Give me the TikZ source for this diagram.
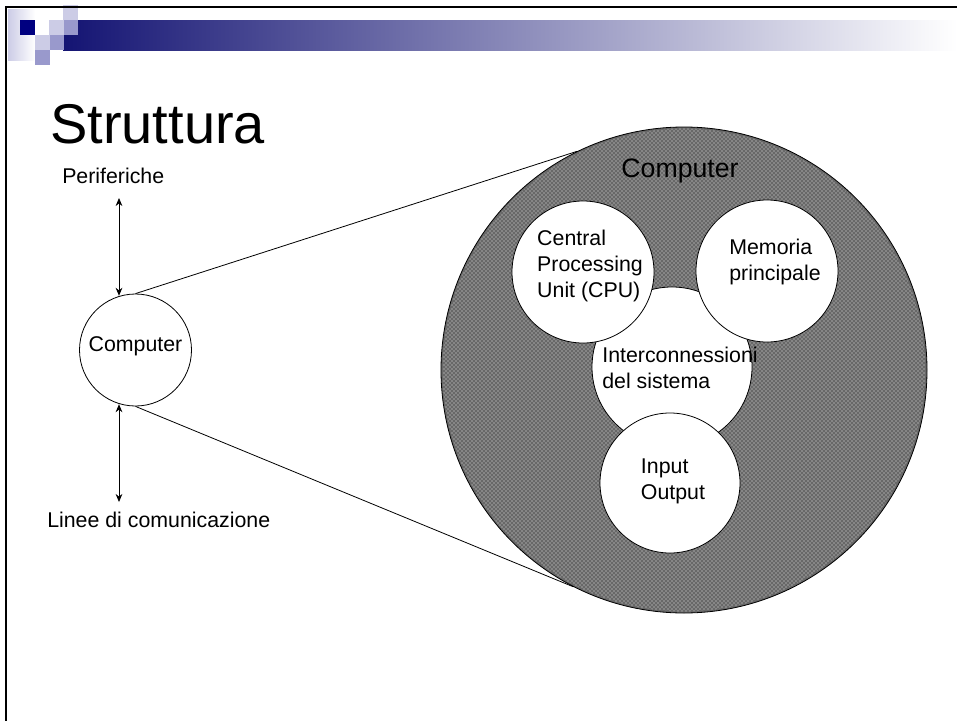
\documentclass[tikz,border=0pt]{standalone}
\usepackage{fontspec}
\setmainfont{Liberation Sans}
\usetikzlibrary{arrows.meta,patterns,calc}
\tikzstyle{blob}=[circle,draw,fill=white,inner sep=0pt,line width=0.6pt]
\tikzstyle{lbl}=[align=left,inner sep=0pt,font=\fontsize{16}{19.5}\selectfont]
\tikzstyle{both}=[{Stealth[length=6pt,width=5pt]}-{Stealth[length=6pt,width=5pt]},line width=0.6pt]
\definecolor{navy}{RGB}{0,0,128}
\definecolor{lav}{RGB}{204,204,230}
\definecolor{lavmid}{RGB}{153,153,204}
\definecolor{hatch}{RGB}{104,104,104}

\begin{document}
\begin{tikzpicture}[x=0.75pt,y=-0.75pt]
\useasboundingbox (0,0) rectangle (957,721);
% header of the slide
\shade[left color=lav,right color=white] (8,9) rectangle (35,60);
\shade[left color={rgb,255:red,20;green,20;blue,115},right color=white] (63,20) rectangle (957,50);
\fill[navy] (20,20) rectangle (35,35);
\foreach \x/\y in {63/5,49/20,35/35} {
	\fill[lav] (\x,\y) rectangle ++(15,15);
	\fill[lavmid] (\x,\y+15) rectangle ++(15,15);
}
\draw[line width=2pt] (6,721) -- (6,7) -- (957,7);
\node[anchor=base west,inner sep=0pt,font=\fontsize{42}{42}\selectfont] (title) at (50,143) {Struttura};

% left side
\node[blob,minimum size=84pt] (comp) at (135.5,350) {};
\node[lbl,anchor=base] (comptxt) at (135.5,351) {Computer};
\node[lbl,anchor=base west] (per) at (62,183) {Periferiche};
\node[lbl,anchor=base west] (lin) at (47,527) {Linee di comunicazione};
\coordinate (pa) at (119,198);
\coordinate (pb) at (119,502);
\draw[both] (pa) -- (pa |- comp.106);
\draw[both] (pb |- comp.-106) -- (pb);

% zoomed computer
\node[circle,draw,inner sep=0pt,minimum size=364.5pt,fill=hatch,line width=0.6pt] (big) at (684,370) {};
\fill[pattern=crosshatch dots,pattern color=white!85!gray] (big.center) circle (181pt);
\draw[line width=0.6pt] (comp.north) -- (big.116);
\draw[line width=0.6pt] (comp.south) -- (big.-117);
\node[anchor=base,inner sep=0pt,font=\fontsize{20}{24}\selectfont] (bigtxt) at (680,177) {Computer};

\node[blob,minimum size=120pt] (inter) at (672,367) {};
\node[blob,minimum size=106.5pt] (cpu) at (583,272) {};
\node[blob,minimum size=106.5pt] (mem) at (767,271) {};
\node[blob,minimum size=105pt] (io) at (670,483) {};
\node[lbl] (cputxt) at (590,266) {Central\\Processing\\Unit (CPU)};
\node[lbl] (memtxt) at (775,262) {Memoria\\principale};
\node[lbl] (intertxt) at (680,368) {Interconnessioni\\del sistema};
\node[lbl] (iotxt) at (673,481) {Input\\Output};
\end{tikzpicture}
\end{document}
